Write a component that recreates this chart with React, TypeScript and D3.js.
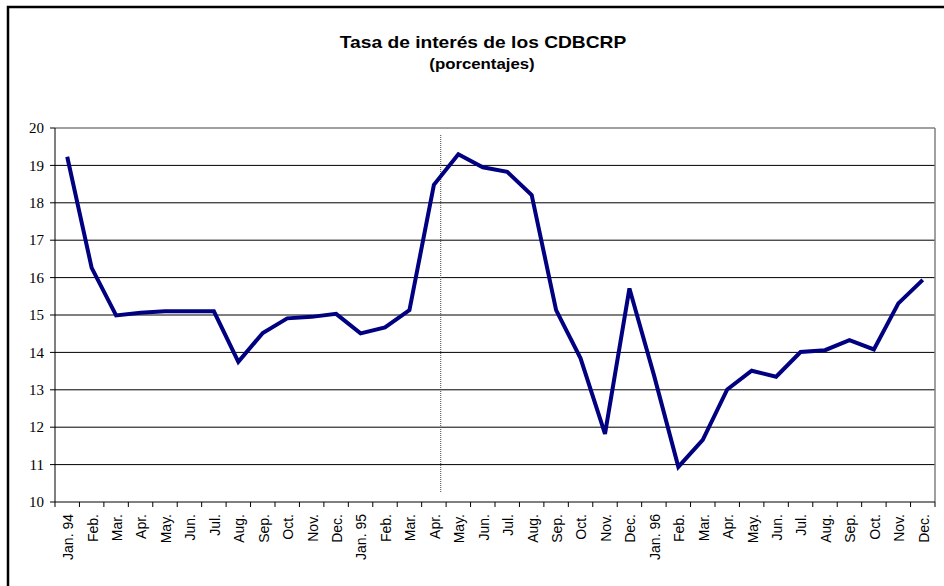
import React, { useEffect } from 'react';
import * as d3 from 'd3';

// etiquetas de meses (ene. 94 - dic. 96)
const months = [
  'Jan. 94', 'Feb.', 'Mar.', 'Apr.', 'May.', 'Jun.', 'Jul.', 'Aug.', 'Sep.', 'Oct.', 'Nov.', 'Dec.',
  'Jan. 95', 'Feb.', 'Mar.', 'Apr.', 'May.', 'Jun.', 'Jul.', 'Aug.', 'Sep.', 'Oct.', 'Nov.', 'Dec.',
  'Jan. 96', 'Feb.', 'Mar.', 'Apr.', 'May.', 'Jun.', 'Jul.', 'Aug.', 'Sep.', 'Oct.', 'Nov.', 'Dec.',
];

const rates = [
  19.23, 16.26, 14.99, 15.06, 15.1, 15.1, 15.1, 13.75, 14.52, 14.91, 14.95, 15.03,
  14.51, 14.67, 15.13, 18.48, 19.3, 18.95, 18.83, 18.21, 15.13, 13.84, 11.82, 15.71,
  13.4, 10.94, 11.66, 13.01, 13.51, 13.35, 14.01, 14.06, 14.33, 14.08, 15.31, 15.94,
];

const yTicks = [10, 11, 12, 13, 14, 15, 16, 17, 18, 19, 20];

const dividerIndex = 15; // linea punteada despues de Apr. 95

const title = 'Tasa de interés de los CDBCRP';
const subtitle = '(porcentajes)';

export default function App() {
  useEffect(() => {
    document.body.style.margin = '0';
  }, []);

  const width = 944;
  const height = 586;
  const margin = { top: 128, right: 9, bottom: 84, left: 55 };
  const innerW = width - margin.left - margin.right;
  const innerH = height - margin.top - margin.bottom;

  const x = d3.scaleBand<number>()
    .domain(d3.range(months.length))
    .range([0, innerW])
    .padding(0);
  const y = d3.scaleLinear().domain([10, 20]).range([innerH, 0]);

  const line = d3.line<number>()
    .x((_, i) => (x(i) as number) + x.bandwidth() / 2)
    .y(d => y(d));

  const dividerX = (x(dividerIndex) as number) + x.bandwidth() * 0.78;
  const stretch = 'scale(1.2,1)';

  return (
    <svg width={width} height={height} style={{ display: 'block', overflow: 'hidden' }}>
      <rect x={0} y={0} width={width} height={height} fill="#fff" />
      {/* marco exterior */}
      <rect x={8} y={7} width={width + 20} height={height + 20} fill="none" stroke="#000" strokeWidth={2.5} />

      <g fontFamily="'Liberation Sans', Arial, sans-serif" fontWeight="bold" textAnchor="middle">
        <text transform={`translate(483,48) ${stretch}`} fontSize={16}>{title}</text>
        <text transform={`translate(482,69) ${stretch}`} fontSize={14}>{subtitle}</text>
      </g>

      <g transform={`translate(${margin.left},${margin.top})`}>
        {/* lineas de grilla */}
        {yTicks.filter(t => t !== 10 && t !== 20).map(t => (
          <line key={t} x1={0} x2={innerW} y1={y(t)} y2={y(t)} stroke="#000" strokeWidth={1} />
        ))}
        {/* borde del area */}
        <line x1={0} x2={innerW} y1={y(20)} y2={y(20)} stroke="#808080" strokeWidth={1.5} />
        <line x1={innerW} x2={innerW} y1={0} y2={innerH} stroke="#808080" strokeWidth={1.5} />

        {/* eje y */}
        <line x1={0} x2={0} y1={0} y2={innerH} stroke="#000" strokeWidth={1} />
        {yTicks.map(t => (
          <g key={t} transform={`translate(0,${y(t)})`}>
            <line x1={-5} x2={0} stroke="#000" />
            <text x={-11} dy="0.35em" textAnchor="end" fontFamily="'Liberation Serif', 'Times New Roman', serif" fontSize={15}>
              {t}
            </text>
          </g>
        ))}

        {/* eje x */}
        <line x1={0} x2={innerW} y1={innerH} y2={innerH} stroke="#000" strokeWidth={1} />
        {d3.range(months.length + 1).map(i => {
          const xp = i < months.length ? (x(i) as number) : innerW;
          return <line key={i} x1={xp} x2={xp} y1={innerH} y2={innerH + 5} stroke="#000" />;
        })}
        {months.map((m, i) => (
          <text
            key={i}
            transform={`translate(${(x(i) as number) + x.bandwidth() / 2 + 1},${innerH + 12}) rotate(-90)`}
            dy="0.35em"
            textAnchor="end"
            fontFamily="'Liberation Sans', Arial, sans-serif"
            fontSize={14}
          >
            {m}
          </text>
        ))}

        {/* linea punteada */}
        <line x1={dividerX} x2={dividerX} y1={7} y2={innerH - 10} stroke="#444" strokeWidth={1} strokeDasharray="1,1" />

        <path d={line(rates) ?? ''} fill="none" stroke="#000080" strokeWidth={4} strokeLinejoin="miter" />
      </g>
    </svg>
  );
}
